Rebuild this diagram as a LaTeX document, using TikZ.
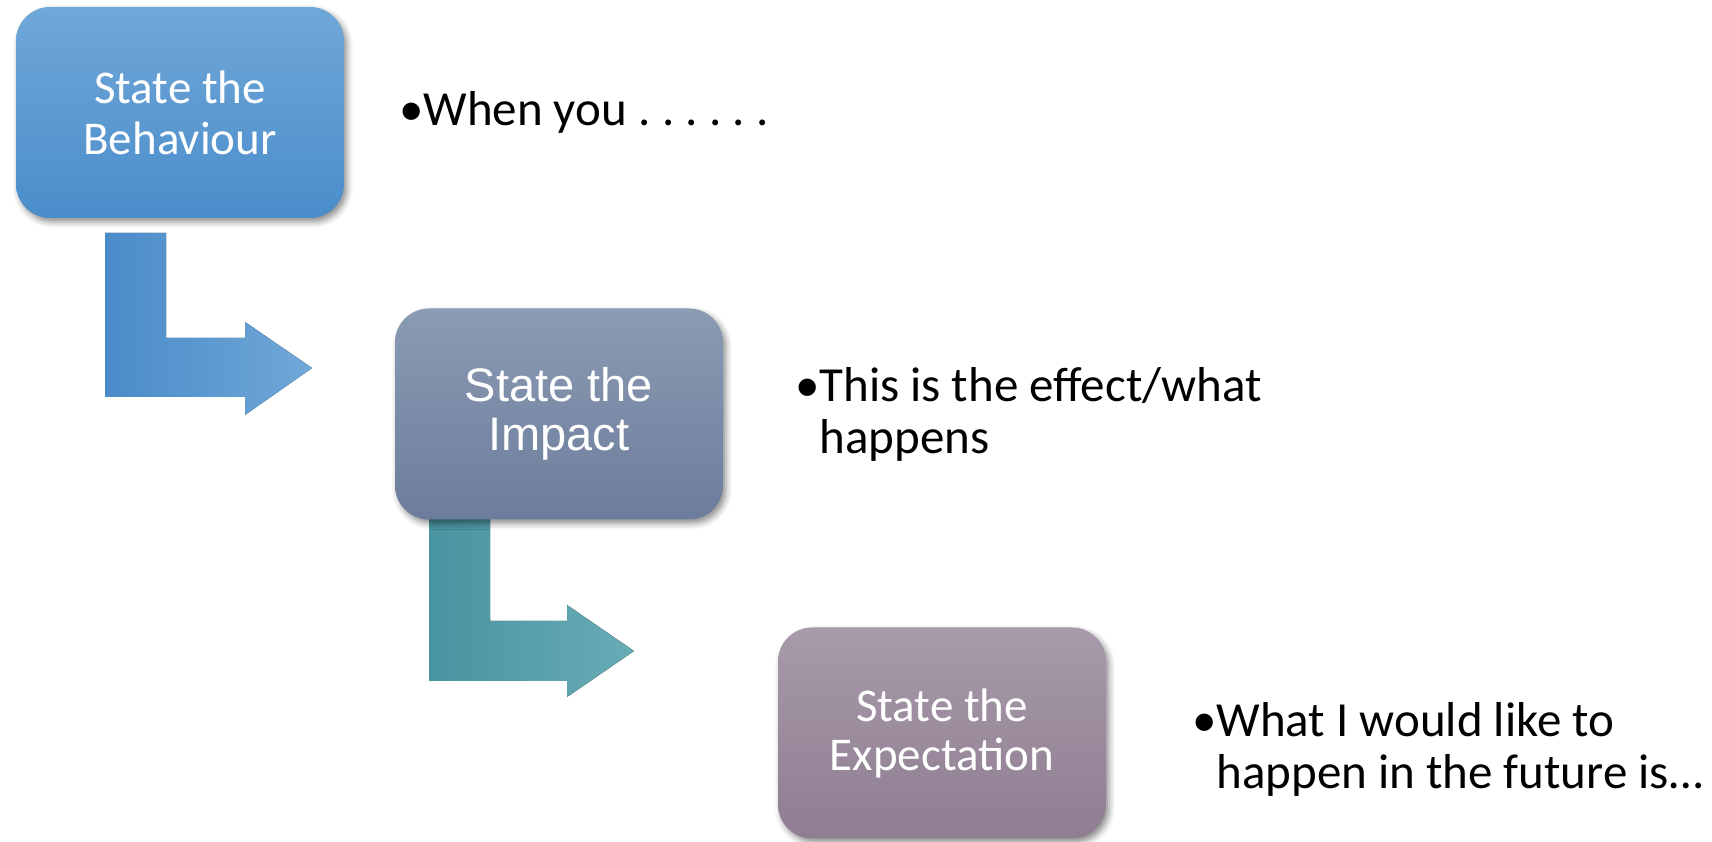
\documentclass[tikz,border=0pt]{standalone}
\usepackage{fontspec}
\setmainfont{Carlito}
\newfontfamily\arialfont{Liberation Sans}
\usetikzlibrary{positioning,shadows.blur}

\definecolor{behavtop}{RGB}{112,167,216}
\definecolor{behavbot}{RGB}{74,141,203}
\definecolor{impacttop}{RGB}{140,155,180}
\definecolor{impactbot}{RGB}{108,125,155}
\definecolor{expecttop}{RGB}{167,154,170}
\definecolor{expectbot}{RGB}{143,125,145}
\definecolor{arrowAl}{RGB}{74,139,201}
\definecolor{arrowAr}{RGB}{112,168,216}
\definecolor{arrowBl}{RGB}{72,148,160}
\definecolor{arrowBr}{RGB}{104,172,182}

\newcommand{\bul}{\makebox[24pt][l]{\textbullet}}
\newcommand{\ind}{\hspace*{24pt}}
\newcommand{\dt}{\hspace{11.3pt}.}

\tikzset{
  stage/.style={rounded corners=34pt, minimum width=328pt, minimum height=211pt,
    inner sep=0pt, align=center, text=white,
    blur shadow={shadow xshift=3pt, shadow yshift=-4pt, shadow blur radius=6pt, shadow opacity=45}},
  note/.style={inner sep=0pt, anchor=west, align=left, font=\fontsize{49}{52}\selectfont},
}

\begin{document}
\begin{tikzpicture}[x=1pt,y=1pt]
    \useasboundingbox (0,0) rectangle (1712,842);
    % bent arrows
    \fill[left color=arrowAl, right color=arrowAr]
    (105,609) -- (166,609) -- (166,504) -- (245,504) -- (245,520) -- (312,474)
    -- (245,427) -- (245,445) -- (105,445) -- cycle;
    \fill[left color=arrowBl, right color=arrowBr]
    (429,327) -- (490,327) -- (490,221) -- (567,221) -- (567,237) -- (634,191)
    -- (567,145) -- (567,161) -- (429,161) -- cycle;
    % stages
    \node[stage, top color=behavtop, bottom color=behavbot,
      font=\fontsize{47}{51}\selectfont] (behav) at (180,729.5) {State the\\Behaviour};
    \node[stage, top color=impacttop, bottom color=impactbot,
      font=\arialfont\fontsize{47}{49}\selectfont] (impact) at (559,428) {State the\\Impact};
    \node[stage, top color=expecttop, bottom color=expectbot,
      font=\fontsize{47}{49}\selectfont] (expect) at (942,109) {State the\\Expectation};
    % notes
    \node[note] (when) [right=55pt of behav] {\bul When you\dt\dt\dt\dt\dt\dt};
    \node[note] (effect) [right=72pt of impact] {\bul This is the effect/what\\\ind happens};
    \node[note] (future) [right=86pt of expect, yshift=-16pt]
      {\bul What I would like to\\\ind happen in the future is\ldots};
\end{tikzpicture}
\end{document}
